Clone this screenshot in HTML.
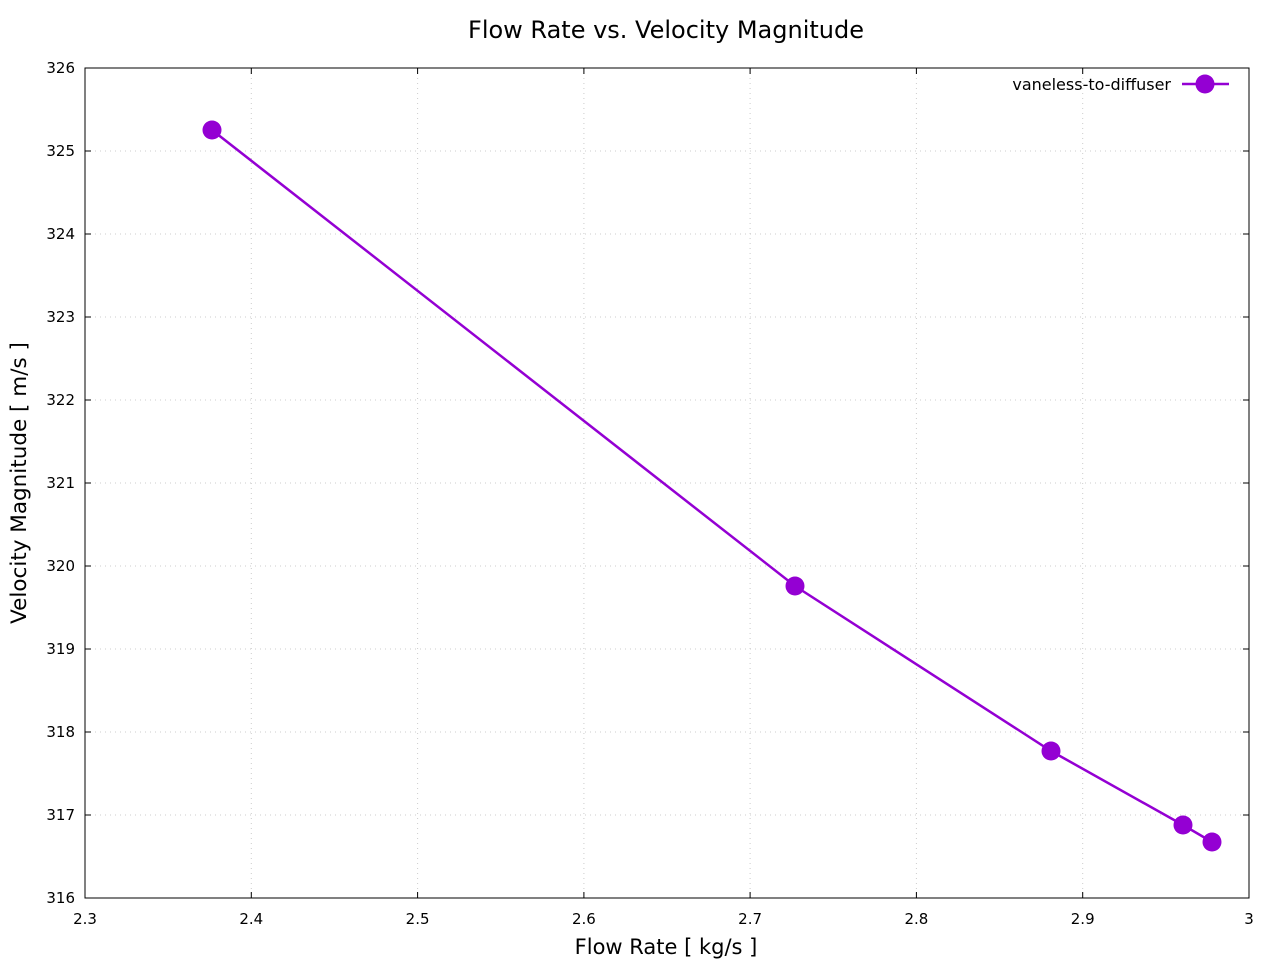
<!DOCTYPE html>
<html><head><style>body{margin:0;background:#fff}svg{display:block}text{font-family:"DejaVu Sans","Liberation Sans",sans-serif;fill:#000}</style></head>
<body>
<svg width="1280" height="960" viewBox="0 0 1280 960" xmlns="http://www.w3.org/2000/svg">
<rect width="1280" height="960" fill="#fff"/>
<g stroke="#ccc" stroke-width="1" stroke-dasharray="1,4">
<line x1="251.3" y1="68" x2="251.3" y2="898"/><line x1="417.6" y1="68" x2="417.6" y2="898"/>
<line x1="583.9" y1="68" x2="583.9" y2="898"/><line x1="750.1" y1="68" x2="750.1" y2="898"/>
<line x1="916.4" y1="68" x2="916.4" y2="898"/><line x1="1082.7" y1="68" x2="1082.7" y2="898"/>
<line x1="85" y1="151" x2="1249" y2="151"/><line x1="85" y1="234" x2="1249" y2="234"/>
<line x1="85" y1="317" x2="1249" y2="317"/><line x1="85" y1="400" x2="1249" y2="400"/>
<line x1="85" y1="483" x2="1249" y2="483"/><line x1="85" y1="566" x2="1249" y2="566"/>
<line x1="85" y1="649" x2="1249" y2="649"/><line x1="85" y1="732" x2="1249" y2="732"/>
<line x1="85" y1="815" x2="1249" y2="815"/>
</g>
<g stroke="#000" stroke-width="1">
<rect x="85" y="68" width="1164" height="830" fill="none"/>
<path d="M251.3 898v-6M417.6 898v-6M583.9 898v-6M750.1 898v-6M916.4 898v-6M1082.7 898v-6M251.3 68v6M417.6 68v6M583.9 68v6M750.1 68v6M916.4 68v6M1082.7 68v6"/>
<path d="M85 151h6M85 234h6M85 317h6M85 400h6M85 483h6M85 566h6M85 649h6M85 732h6M85 815h6M1249 151h-6M1249 234h-6M1249 317h-6M1249 400h-6M1249 483h-6M1249 566h-6M1249 649h-6M1249 732h-6M1249 815h-6"/>
</g>
<g font-size="15" text-anchor="middle">
<text x="85" y="924">2.3</text><text x="251.3" y="924">2.4</text><text x="417.6" y="924">2.5</text><text x="583.9" y="924">2.6</text><text x="750.1" y="924">2.7</text><text x="916.4" y="924">2.8</text><text x="1082.7" y="924">2.9</text><text x="1249" y="924">3</text>
</g>
<g font-size="15" text-anchor="end">
<text x="75" y="73">326</text><text x="75" y="156">325</text><text x="75" y="239">324</text><text x="75" y="322">323</text><text x="75" y="405">322</text><text x="75" y="488">321</text><text x="75" y="571">320</text><text x="75" y="654">319</text><text x="75" y="737">318</text><text x="75" y="820">317</text><text x="75" y="903">316</text>
</g>
<text x="666" y="38" font-size="24" text-anchor="middle">Flow Rate vs. Velocity Magnitude</text>
<text x="666" y="954" font-size="21" text-anchor="middle">Flow Rate [ kg/s ]</text>
<text transform="translate(26,483) rotate(-90)" font-size="21.5" text-anchor="middle">Velocity Magnitude [ m/s ]</text>
<polyline points="212,130 795,586 1051,751 1183,825 1212,842" fill="none" stroke="#9400d3" stroke-width="2.5"/>
<g fill="#9400d3">
<circle cx="212" cy="130" r="9.5"/><circle cx="795" cy="586" r="9.5"/><circle cx="1051" cy="751" r="9.5"/><circle cx="1183" cy="825" r="9.5"/><circle cx="1212" cy="842" r="9.5"/>
<circle cx="1205" cy="84" r="9.5"/>
</g>
<line x1="1182" y1="84" x2="1229" y2="84" stroke="#9400d3" stroke-width="2.5"/>
<text x="1171" y="90" font-size="16" text-anchor="end">vaneless-to-diffuser</text>
</svg>
</body></html>
